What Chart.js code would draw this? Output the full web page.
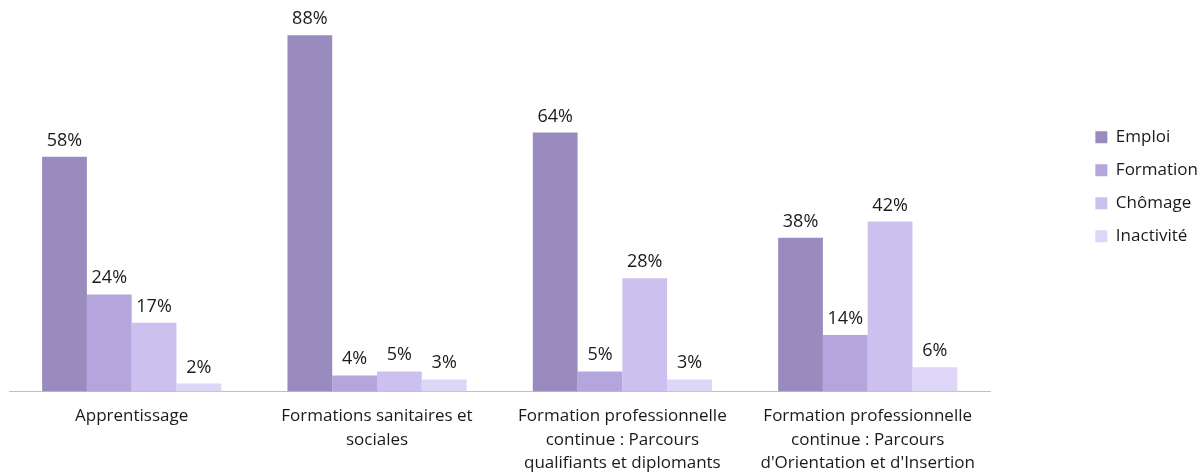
<!DOCTYPE html>
<html>
<head>
<meta charset="utf-8">
<script src="https://cdn.jsdelivr.net/npm/chart.js"></script>
<style>
  html, body { margin: 0; padding: 0; background: #fff; }
  #wrap { width: 1200px; height: 472px; }
</style>
</head>
<body>
<div id="wrap"><canvas id="chart"></canvas></div>
<script>
var categories = [
    'Apprentissage',
    ['Formations sanitaires et', 'sociales'],
    ['Formation professionnelle', 'continue : Parcours', 'qualifiants et diplomants'],
    ['Formation professionnelle', 'continue : Parcours', "d'Orientation et d'Insertion"]
];
var emploi = [58, 88, 64, 38];
var formation = [24, 4, 5, 14];
var chomage = [17, 5, 28, 42];
var inactivite = [2, 3, 3, 6];

var font = '"Open Sans", "Liberation Sans", sans-serif';

// draws "58%" style labels above each bar
var valueLabels = {
    id: 'valueLabels',
    afterDatasetsDraw: function(chart) {
        var ctx = chart.ctx;
        ctx.save();
        ctx.font = '18px ' + font;
        ctx.fillStyle = '#1a1a1a';
        ctx.textAlign = 'center';
        ctx.textBaseline = 'alphabetic';
        chart.data.datasets.forEach(function(ds, i) {
            chart.getDatasetMeta(i).data.forEach(function(bar, j) {
                ctx.fillText(ds.data[j] + '%', bar.x, bar.y - 11);
            });
        });
        ctx.restore();
    }
};

new Chart(document.getElementById('chart'), {
    type: 'bar',
    data: {
        labels: categories,
        datasets: [
            { label: 'Emploi', data: emploi, backgroundColor: '#9a8bbe' },
            { label: 'Formation', data: formation, backgroundColor: '#b4a6dd' },
            { label: 'Chômage', data: chomage, backgroundColor: '#ccc0ef' },
            { label: 'Inactivité', data: inactivite, backgroundColor: '#ddd6f6' }
        ]
    },
    options: {
        responsive: true,
        maintainAspectRatio: false,
        animation: false,
        layout: { padding: { top: 7, left: 9, right: -8, bottom: -8 } },
        datasets: { bar: { barPercentage: 1, categoryPercentage: 0.73 } },
        scales: {
            x: {
                grid: { display: false },
                border: { display: true, color: '#c0c0c0', width: 1 },
                ticks: { color: '#1a1a1a', font: { family: font, size: 17, lineHeight: 1.38 }, padding: 5, maxRotation: 0, autoSkip: false }
            },
            y: {
                position: 'right',
                min: 0,
                max: 95,
                grid: { display: false },
                border: { display: false },
                ticks: { display: false },
                afterFit: function(s) { s.width = 89; }
            }
        },
        plugins: {
            legend: {
                position: 'right',
                align: 'start',
                title: { display: true, text: ' ', font: { size: 14 }, padding: { top: 0, bottom: 89 } },
                labels: {
                    color: '#1a1a1a',
                    font: { family: font, size: 17 },
                    boxWidth: 12,
                    boxHeight: 12,
                    padding: 16
                }
            },
            tooltip: { enabled: false }
        }
    },
    plugins: [valueLabels]
});
</script>
</body>
</html>
